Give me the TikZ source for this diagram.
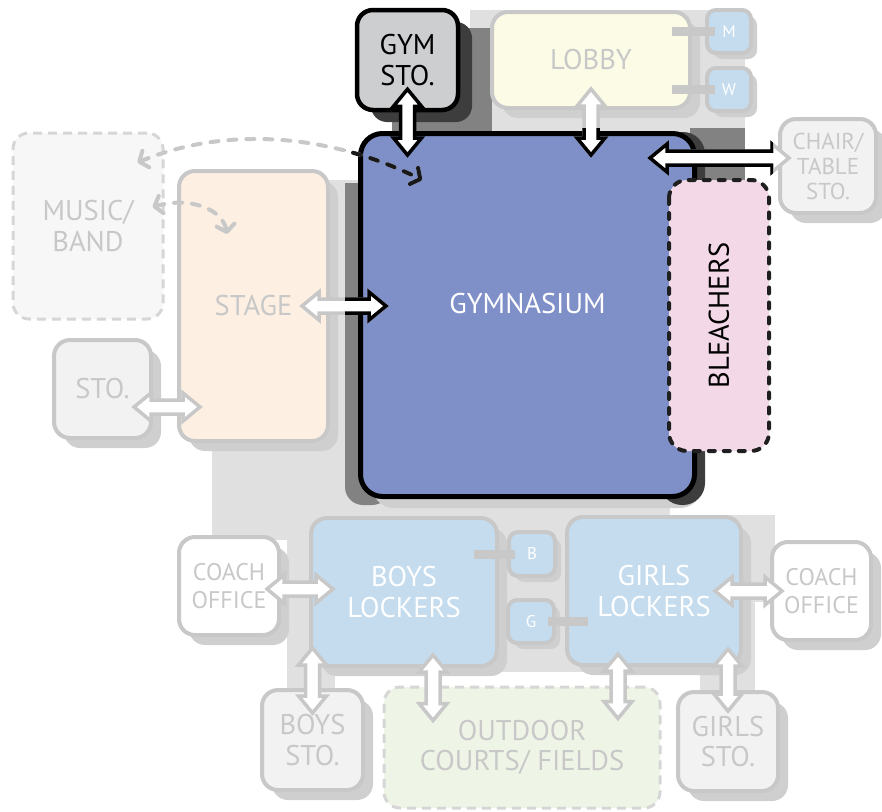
\documentclass[tikz,border=0pt]{standalone}
\usepackage{fontspec}
\setmainfont{PT Sans}
\usetikzlibrary{arrows.meta, calc}
\definecolor{edgeGray}  {HTML}{C8C8C8}
\definecolor{dashGray}  {HTML}{D6D6D6}
\definecolor{shadeGray} {HTML}{CFCFCF}
\definecolor{backGray}  {HTML}{E0E0E0}
\definecolor{midGray}   {HTML}{828282}
\definecolor{darkGray}  {HTML}{3D3D3D}
\definecolor{gymBlue}   {HTML}{7F8FC7}
\definecolor{lockerBlue}{HTML}{C4DCEE}
\definecolor{lobbyBack} {HTML}{FCFCE6}
\definecolor{stageBack} {HTML}{FDEFE2}
\definecolor{bleachBack}{HTML}{F3D9E8}
\definecolor{fieldBack} {HTML}{EFF5E6}
\definecolor{stoBack}   {HTML}{F2F2F2}
\definecolor{musicBack} {HTML}{F7F7F7}
\definecolor{gymstoBack}{HTML}{CDCED0}
\tikzset{
    box/.style={draw=edgeGray, line width=4pt, rounded corners=16pt, inner sep=0pt,
                align=center, text=edgeGray, font=\fontsize{28.5}{30.5}\selectfont},
    boxshadow/.style={preaction={fill=shadeGray, transform canvas={shift={(#1,-#1)}}}},
    boxshadow/.default=10pt,
    room/.style={box, boxshadow},
    sto/.style={room, fill=stoBack},
    office/.style={room, fill=white, font=\fontsize{24}{28}\selectfont},
    locker/.style={room, fill=lockerBlue, text=white},
    wc/.style={box, boxshadow=6pt, fill=lockerBlue, text=white, rounded corners=9pt,
               font=\fontsize{17}{20}\selectfont},
    dashbox/.style={box, draw=dashGray, line width=3pt, dash pattern=on 9pt off 6pt},
    gymstobox/.style={box, draw=black, line width=4.5pt, fill=gymstoBack, text=black,
               preaction={fill=darkGray, transform canvas={shift={(14pt,-12pt)}}}},
    gymbox/.style={box, draw=black, line width=5pt, rounded corners=22pt, fill=gymBlue,
               text=white},
    bleach/.style={box, draw=black!88, line width=4pt, rounded corners=18pt,
               dash pattern=on 6pt off 9pt, line cap=round, fill=bleachBack, text=black},
    stub/.style={edgeGray, line width=9pt},
    block/.style={fill=white, draw=edgeGray, line width=3.5pt, line join=miter},
    blockon/.style={block, draw=black},
    flow/.style={edgeGray, line width=4pt, dash pattern=on 8pt off 10pt, line cap=round,
               {Straight Barb[round, length=7pt, width=18pt]}-{Straight Barb[round, length=7pt, width=18pt]}},
    flowon/.style={flow, black!90},
}
% double block arrow between two points
\newcommand{\twoway}[3]{%
  \path let \p1=(#2), \p2=(#3) in
    \pgfextra{\pgfmathsetmacro\wayang{atan2(\y2-\y1,\x2-\x1)}%
              \pgfmathsetmacro\waylen{veclen(\x2-\x1,\y2-\y1)}%
              \global\let\wayang\wayang \global\let\waylen\waylen};
  \draw[#1, shift={(#2)}, rotate=\wayang]
    (0pt,0pt) -- (17pt,14pt) -- (17pt,7pt) -- (\waylen pt-17pt,7pt) -- (\waylen pt-17pt,14pt)
    -- (\waylen pt,0pt) -- (\waylen pt-17pt,-14pt) -- (\waylen pt-17pt,-7pt) -- (17pt,-7pt)
    -- (17pt,-14pt) -- cycle;
}
\begin{document}
\begin{tikzpicture}[x=1pt, y=-1pt]
    \useasboundingbox (0,0) rectangle (882,811);
    % corridor backdrop
    \fill[backGray] (470,10) rectangle (745,135);
    \fill[backGray] (212,180) rectangle (670,540);
    \fill[backGray] (287,500) rectangle (670,672);
    \fill[backGray] (287,660) rectangle (335,690);
    \fill[backGray] (660,515) rectangle (775,602);
    \fill[backGray] (700,600) rectangle (755,697);
    % gym zone
    \fill[midGray] (392,28) rectangle (492,133);
    \fill[midGray] (690,128) rectangle (745,185);
    \fill[midGray] (390,183) -- (345,183) [rounded corners=18pt] -- (345,505) -- (390,505) -- cycle;
    \fill[shadeGray, rounded corners=22pt] (372,145) rectangle (702,508);
    \fill[darkGray, rounded corners=22pt] (660,132) rectangle (705,505);

    \node[gymstobox, minimum width=101pt, minimum height=100pt] (gymsto) at (407.5,60) {GYM\\STO.};
    \node[room, fill=lobbyBack, minimum width=198pt, minimum height=96pt] (lobby) at (591,60) {LOBBY};
    \node[wc, minimum width=44pt, minimum height=43pt] (m) at (729,31.5) {M};
    \node[wc, minimum width=44pt, minimum height=43pt] (w) at (729,89.5) {W};
    \node[sto, font=\fontsize{23}{25}\selectfont, minimum width=96pt, minimum height=94pt] (chair) at (828,166) {CHAIR/\\TABLE\\STO.};
    \node[dashbox, fill=musicBack, minimum width=150pt, minimum height=186pt] (music) at (88,226) {MUSIC/\\BAND};
    \node[room, fill=stageBack, minimum width=149pt, minimum height=270pt] (stage) at (253.5,306) {STAGE};
    \node[sto, minimum width=97pt, minimum height=98pt] (sto) at (102.5,389) {STO.};
    \node[gymbox, minimum width=334pt, minimum height=363pt, text depth=24pt] (gym) at (527.5,315) {GYMNASIUM};
    \node[bleach, rotate=90, minimum width=271pt, minimum height=100pt] (bleachers) at (719,315.5) {BLEACHERS};
    \node[locker, minimum width=186pt, minimum height=148pt] (boys) at (404,592) {BOYS\\LOCKERS};
    \node[wc, minimum width=46pt, minimum height=44pt] (b) at (532,554) {B};
    \node[wc, minimum width=46pt, minimum height=43pt] (g) at (531,621.5) {G};
    \node[locker, minimum width=174pt, minimum height=148pt] (girls) at (654,591) {GIRLS\\LOCKERS};
    \node[office, minimum width=100pt, minimum height=98pt] (coachL) at (229,586) {COACH\\OFFICE};
    \node[office, minimum width=99pt, minimum height=98pt] (coachR) at (821.5,591) {COACH\\OFFICE};
    \node[sto, minimum width=101pt, minimum height=100pt] (boysSto) at (312.5,740) {BOYS\\STO.};
    \node[dashbox, fill=fieldBack, minimum width=276pt, minimum height=121pt] (outdoor) at (522,747.5) {OUTDOOR\\COURTS/ FIELDS};
    \node[sto, minimum width=100pt, minimum height=99pt] (girlsSto) at (728,741.5) {GIRLS\\STO.};

    % toilet links
    \draw[stub] ($(lobby.east |- m)+(-20,0)$) -- ($(m.west)+(10,0)$);
    \draw[stub] ($(lobby.east |- w)+(-20,0)$) -- ($(w.west)+(10,0)$);
    \draw[stub] ($(boys.east |- b)+(-25,0)$) -- ($(b.west)+(8,0)$);
    \draw[stub] ($(girls.west |- g)+(23,0)$) -- ($(g.east)+(-8,0)$);

    % access arrows
    \twoway{blockon}{$(gymsto.south)+(0,-23)$}{$(gymsto.south |- gym.north)+(0,24)$}
    \twoway{block}{$(lobby.south)+(0,-21)$}{$(lobby.south |- gym.north)+(0,24)$}
    \twoway{block}{$(chair.west)+(11,-8)$}{$(chair.west -| gym.east)+(-47,-8)$}
    \twoway{block}{$(stage.east)+(-28,0)$}{$(stage.east -| gym.west)+(28,0)$}
    \twoway{block}{$(sto.east)+(-19,18)$}{$(sto.east -| stage.west)+(23,18)$}
    \twoway{block}{$(coachL.east)+(-14,3)$}{$(coachL.east -| boys.west)+(24,3)$}
    \twoway{block}{$(girls.east)+(-28,0)$}{$(coachR.west)+(12,0)$}
    \twoway{block}{$(boysSto.north)+(0,-40)$}{$(boysSto.north)+(0,25)$}
    \twoway{block}{$(boys.south)+(29,-13)$}{$(outdoor.north)+(-89,35)$}
    \twoway{block}{$(girls.south)+(-36,-13)$}{$(outdoor.north)+(96,33)$}
    \twoway{block}{$(girls.south)+(74,-18)$}{$(girlsSto.north)+(0,21)$}
    \draw[flow] ($(music.north east)+(-27,31)$) .. controls +(94,-39) and +(-85,-43) .. ($(gym.north west)+(64,49)$);
    \draw[flow] ($(music.east)+(-12,-19)$) .. controls +(39,-11) and +(-4,-24) .. ($(stage.north west)+(50,65)$);

    % gym zone in black
    \begin{scope}
        \clip (345,128) rectangle (773,510);
        \twoway{blockon}{$(lobby.south)+(0,-21)$}{$(lobby.south |- gym.north)+(0,24)$}
        \twoway{blockon}{$(chair.west)+(11,-8)$}{$(chair.west -| gym.east)+(-47,-8)$}
        \twoway{blockon}{$(stage.east)+(-28,0)$}{$(stage.east -| gym.west)+(28,0)$}
        \draw[flowon] ($(music.north east)+(-27,31)$) .. controls +(94,-39) and +(-85,-43) .. ($(gym.north west)+(64,49)$);
    \end{scope}
\end{tikzpicture}
\end{document}
